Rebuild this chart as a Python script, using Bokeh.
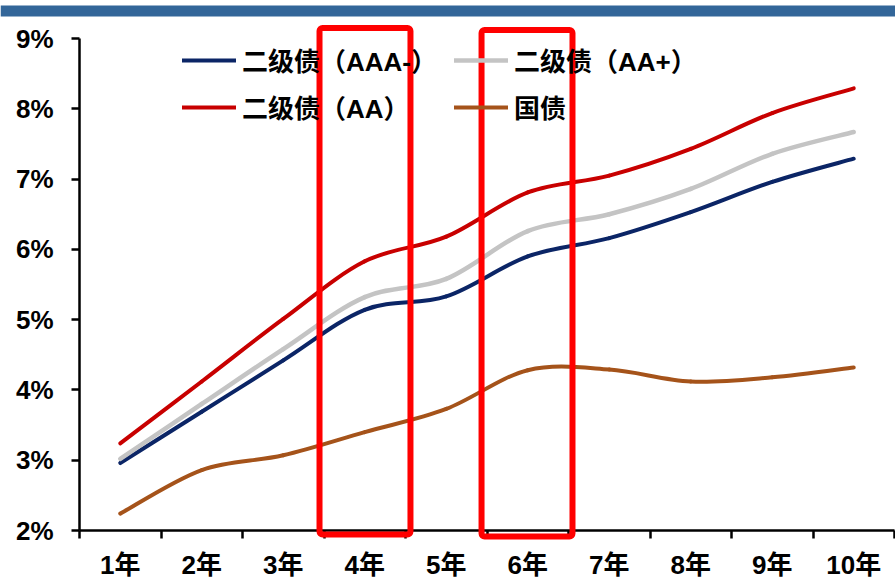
from bokeh.plotting import figure
from bokeh.models import (Range1d, FixedTicker, PrintfTickFormatter, BoxAnnotation,
                          Legend, LegendItem)
from bokeh.embed import file_html
from bokeh.resources import INLINE

categories = ["1年", "2年", "3年", "4年", "5年", "6年", "7年", "8年", "9年", "10年"]
aaa_minus = [2.96, 3.69, 4.42, 5.14, 5.33, 5.90, 6.16, 6.53, 6.96, 7.29]
aa_plus = [3.02, 3.80, 4.58, 5.32, 5.58, 6.26, 6.50, 6.86, 7.36, 7.67]
aa = [3.24, 4.12, 5.01, 5.83, 6.18, 6.81, 7.05, 7.43, 7.94, 8.29]
gov = [2.24, 2.86, 3.07, 3.40, 3.73, 4.28, 4.29, 4.12, 4.18, 4.32]
y_ticks = [2, 3, 4, 5, 6, 7, 8, 9]
series_names = ["二级债（AAA-）", "二级债（AA+）", "二级债（AA）", "国债"]
highlight = ["4年", "6年"]

FONT = "'Liberation Sans', 'Noto Sans CJK SC'"

# page geometry (pixels)
W, H = 895, 580
AX_L, AX_R = 79, 894      # x = 0 and x = n
AX_T, AX_B = 38, 530      # y = max tick and y = min tick

n = len(categories)
xs = [i + 0.5 for i in range(n)]
ymin, ymax = min(y_ticks), max(y_ticks)
ppx = (AX_R - AX_L) / n
ppy = (AX_B - AX_T) / (ymax - ymin)

p = figure(width=W, height=H, output_backend="svg", toolbar_location=None,
           x_range=Range1d(-AX_L / ppx, (W - AX_L) / ppx),
           y_range=Range1d(ymin - (H - AX_B) / ppy, ymax + AX_T / ppy),
           min_border=0, min_border_left=0, min_border_right=0,
           min_border_top=0, min_border_bottom=0)
p.outline_line_color = None
p.xgrid.visible = False
p.ygrid.visible = False
p.background_fill_color = "white"
p.border_fill_color = "white"


def smooth_segments(x, y):
    # Bezier control points (Catmull-Rom style smoothing) for a smoothed line
    m = len(x)
    seg = dict(x0=[], y0=[], x1=[], y1=[], cx0=[], cy0=[], cx1=[], cy1=[])
    for i in range(m - 1):
        xp, yp = (x[i - 1], y[i - 1]) if i > 0 else (x[i], y[i])
        xn2, yn2 = (x[i + 2], y[i + 2]) if i + 2 < m else (x[i + 1], y[i + 1])
        seg["x0"].append(x[i]); seg["y0"].append(y[i])
        seg["x1"].append(x[i + 1]); seg["y1"].append(y[i + 1])
        seg["cx0"].append(x[i] + (x[i + 1] - xp) / 6)
        seg["cy0"].append(y[i] + (y[i + 1] - yp) / 6)
        seg["cx1"].append(x[i + 1] - (xn2 - x[i]) / 6)
        seg["cy1"].append(y[i + 1] - (yn2 - y[i]) / 6)
    return seg


colors = ["#0B2566", "#C4C4C4", "#C80000", "#A5531A"]
widths = [4, 4.5, 4, 4]
renderers = []
for vals, c, w in zip([aaa_minus, aa_plus, aa, gov], colors, widths):
    r = p.bezier(source=smooth_segments(xs, vals), x0="x0", y0="y0", x1="x1", y1="y1",
                 cx0="cx0", cy0="cy0", cx1="cx1", cy1="cy1",
                 line_color=c, line_width=w, line_cap="round")
    renderers.append(r)

# axes, pinned at the data origin
xa = p.xaxis[0]
xa.fixed_location = ymin
xa.bounds = (0, n)
xa.ticker = FixedTicker(ticks=xs, minor_ticks=list(range(n + 1)))
xa.major_label_overrides = {x: c for x, c in zip(xs, categories)}
xa.major_tick_line_color = None
xa.major_tick_out = 0
xa.major_tick_in = 0
xa.minor_tick_line_color = "black"
xa.minor_tick_line_width = 2.5
xa.minor_tick_out = 8
xa.minor_tick_in = 0
xa.axis_line_width = 2.5
xa.axis_line_color = "black"
xa.major_label_standoff = 11
xa.major_label_text_font = FONT
xa.major_label_text_font_size = "26px"
xa.major_label_text_font_style = "bold"
xa.major_label_text_color = "black"

ya = p.yaxis[0]
ya.fixed_location = 0
ya.bounds = (ymin, ymax)
ya.ticker = FixedTicker(ticks=y_ticks)
ya.formatter = PrintfTickFormatter(format="%d%%")
ya.minor_tick_line_color = None
ya.major_tick_line_width = 2.5
ya.major_tick_out = 8
ya.major_tick_in = 0
ya.axis_line_width = 2.5
ya.axis_line_color = "black"
ya.major_label_standoff = 18
ya.major_label_text_font = FONT
ya.major_label_text_font_size = "26px"
ya.major_label_text_font_style = "bold"
ya.major_label_text_color = "black"

# top band
band = BoxAnnotation(left=0, right=W, top=5, bottom=16,
                     left_units="canvas", right_units="canvas",
                     top_units="canvas", bottom_units="canvas",
                     fill_color="#336699", fill_alpha=1, line_color=None)
p.add_layout(band)

# red highlight boxes
for cat, (dl, dr, top, bot) in zip(highlight, [(-0.055, 0.061, 9.149, 1.943),
                                                (-0.067, 0.049, 9.121, 1.915)]):
    i = categories.index(cat)
    box = BoxAnnotation(left=i + dl, right=i + 1 + dr, top=top, bottom=bot,
                        fill_color=None, fill_alpha=0, line_color="#FF0000",
                        line_width=6, line_alpha=1, border_radius=3)
    p.add_layout(box)

order = [0, 2, 1, 3]
legend = Legend(items=[LegendItem(label=series_names[k], renderers=[renderers[k]]) for k in order],
                location=(182, 455), ncols=2, orientation="vertical",
                label_text_font=FONT, label_text_font_size="26px",
                label_text_font_style="bold", label_text_color="black",
                glyph_width=54, glyph_height=30, label_height=30, label_standoff=6,
                label_width=202,
                spacing=10, padding=0, margin=0,
                border_line_color=None, background_fill_alpha=0)
p.add_layout(legend)

open("out.html", "w").write(file_html(p, INLINE))
